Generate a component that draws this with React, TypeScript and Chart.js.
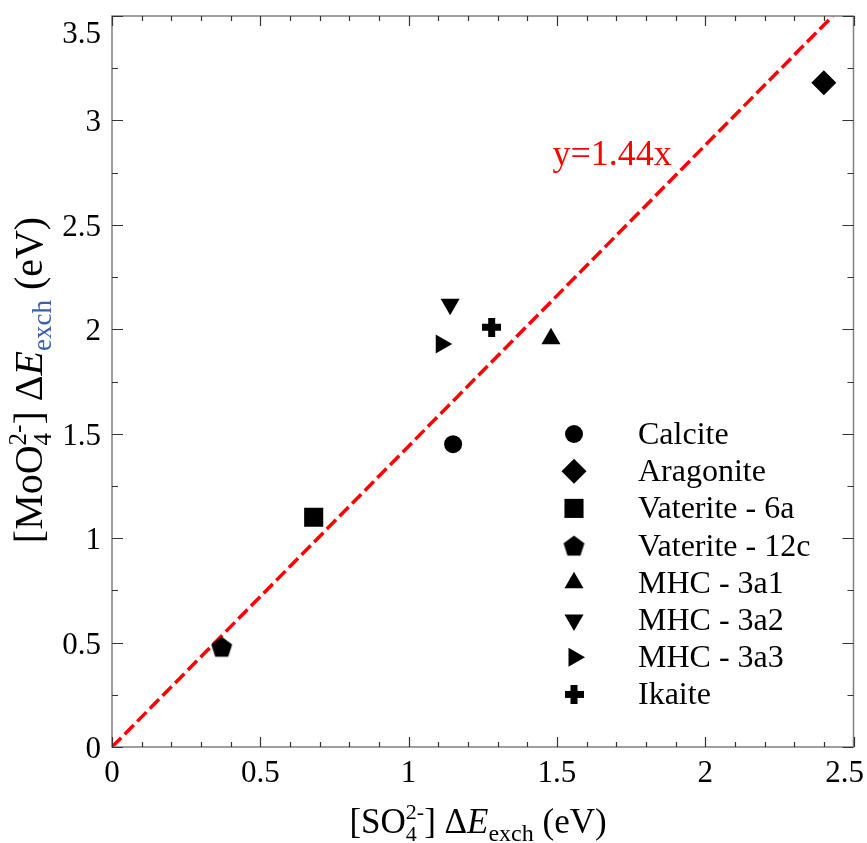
import React, { useEffect, useRef } from 'react';
import { Chart, registerables } from 'chart.js';
import { drawPoint } from 'chart.js/helpers';

Chart.register(...registerables);

// ---- data ----
const seriesNames = ['Calcite', 'Aragonite', 'Vaterite - 6a', 'Vaterite - 12c', 'MHC - 3a1', 'MHC - 3a2', 'MHC - 3a3', 'Ikaite'];
const seriesX = [1.15, 2.40, 0.68, 0.37, 1.48, 1.14, 1.11, 1.28];
const seriesY = [1.45, 3.18, 1.10, 0.48, 1.955, 2.12, 1.93, 2.01];
const fitLineX = [0, 2.43];
const fitLineY = [0, 3.5];
const fitLabel = 'y=1.44x';
const xTicks = [0, 0.5, 1, 1.5, 2, 2.5];
const xTickLabels = ['0', '0.5', '1', '1.5', '2', '2.5'];
const yTicks = [0, 0.5, 1, 1.5, 2, 2.5, 3, 3.5];
const yTickLabels = ['0', '0.5', '1', '1.5', '2', '2.5', '3', '3.5'];
const xMinorStep = 0.1;
const yMinorStep = 0.25;

const FONT = '"Liberation Serif", "Times New Roman", serif';

type Part = { text: string; size: number; dy?: number; italic?: boolean; color?: string; stackNext?: boolean };

function fontOf(p: Part) {
  return `${p.italic ? 'italic ' : ''}${p.size}px ${FONT}`;
}

function drawRich(ctx: CanvasRenderingContext2D, parts: Part[], cx: number, cy: number, rotate: boolean) {
  let w = 0;
  const placed: { p: Part; x: number }[] = [];
  for (let i = 0; i < parts.length; i++) {
    const p = parts[i];
    ctx.font = fontOf(p);
    const pw = ctx.measureText(p.text).width;
    if (p.stackNext && i + 1 < parts.length) {
      const q = parts[i + 1];
      ctx.font = fontOf(q);
      const qw = ctx.measureText(q.text).width;
      placed.push({ p, x: w });
      placed.push({ p: q, x: w });
      w += Math.max(pw, qw);
      i++;
    } else {
      placed.push({ p, x: w });
      w += pw;
    }
  }
  ctx.save();
  ctx.translate(cx, cy);
  if (rotate) ctx.rotate(-Math.PI / 2);
  ctx.textAlign = 'left';
  ctx.textBaseline = 'alphabetic';
  const start = -w / 2;
  for (const { p, x } of placed) {
    ctx.font = fontOf(p);
    ctx.fillStyle = p.color || '#000';
    ctx.fillText(p.text, start + x, p.dy || 0);
  }
  ctx.restore();
}

function makePentagon(size: number, R: number) {
  const c = document.createElement('canvas');
  c.width = size;
  c.height = size;
  const g = c.getContext('2d')!;
  g.fillStyle = '#000';
  const cos36 = Math.cos(Math.PI / 5);
  const cy = size / 2 + (R - R * cos36) / 2;
  g.beginPath();
  for (let i = 0; i < 5; i++) {
    const a = (-90 + 72 * i) * Math.PI / 180;
    const x = size / 2 + R * Math.cos(a);
    const y = cy + R * Math.sin(a);
    if (i === 0) g.moveTo(x, y); else g.lineTo(x, y);
  }
  g.closePath();
  g.fill();
  return c;
}

function makePlus(size: number, t: number) {
  const c = document.createElement('canvas');
  c.width = size;
  c.height = size;
  const g = c.getContext('2d')!;
  g.fillStyle = '#000';
  const o = (size - t) / 2;
  g.fillRect(o, 0, t, size);
  g.fillRect(0, o, size, t);
  return c;
}

export default function App() {
  const ref = useRef<HTMLCanvasElement | null>(null);

  useEffect(() => {
    const canvas = ref.current;
    if (!canvas) return;
    const pent = makePentagon(23, 11);
    const plus = makePlus(19, 7);
    const markerStyles: any[] = [
      { pointStyle: 'circle', radius: 9, rotation: 0 },
      { pointStyle: 'rectRot', radius: 12.5, rotation: 0 },
      { pointStyle: 'rect', radius: 13.5, rotation: 0 },
      { pointStyle: pent, radius: 10, rotation: 0 },
      { pointStyle: 'triangle', radius: 11, rotation: 0 },
      { pointStyle: 'triangle', radius: 11, rotation: 180 },
      { pointStyle: 'triangle', radius: 11, rotation: 90 },
      { pointStyle: plus, radius: 9, rotation: 0 },
    ];

    const scatterSets = seriesNames.map((name, i) => ({
      type: 'scatter' as const,
      label: name,
      data: [{ x: seriesX[i], y: seriesY[i] }],
      pointStyle: markerStyles[i].pointStyle,
      pointRadius: markerStyles[i].radius,
      pointRotation: markerStyles[i].rotation,
      pointBackgroundColor: '#000',
      pointBorderColor: '#000',
      pointBorderWidth: 0,
      showLine: false,
      order: 1,
    }));

    const lineSet = {
      type: 'line' as const,
      label: fitLabel,
      data: fitLineX.map((x, i) => ({ x, y: fitLineY[i] })),
      borderColor: '#ff0000',
      borderWidth: 3.5,
      borderDash: [13, 5],
      borderCapStyle: 'butt' as const,
      pointRadius: 0,
      fill: false,
      tension: 0,
      order: 2,
    };

    const framePlugin = {
      id: 'frame',
      afterDraw(chart: any) {
        const ctx: CanvasRenderingContext2D = chart.ctx;
        const { left, right, top, bottom } = chart.chartArea;
        const xs = chart.scales.x;
        const ys = chart.scales.y;
        ctx.save();
        // frame
        ctx.strokeStyle = '#808080';
        ctx.lineWidth = 1.5;
        ctx.strokeRect(left, top, right - left, bottom - top);
        // ticks
        ctx.strokeStyle = '#333';
        ctx.lineWidth = 1.2;
        ctx.beginPath();
        const eps = 1e-6;
        for (let v = xs.min; v <= xs.max + eps; v += xMinorStep) {
          const isMajor = xTicks.some((t) => Math.abs(t - v) < 1e-4);
          const len = isMajor ? 10 : 5;
          const px = Math.round(xs.getPixelForValue(v)) + 0.5;
          ctx.moveTo(px, bottom);
          ctx.lineTo(px, bottom - len);
          ctx.moveTo(px, top);
          ctx.lineTo(px, top + len);
        }
        for (let v = ys.min; v <= ys.max + eps; v += yMinorStep) {
          const isMajor = yTicks.some((t) => Math.abs(t - v) < 1e-4);
          const len = isMajor ? 11 : 6;
          const py = Math.round(ys.getPixelForValue(v)) + 0.5;
          ctx.moveTo(left, py);
          ctx.lineTo(left + len, py);
          ctx.moveTo(right, py);
          ctx.lineTo(right - len, py);
        }
        ctx.stroke();

        // tick labels
        ctx.fillStyle = '#000';
        ctx.font = `31px ${FONT}`;
        ctx.textBaseline = 'alphabetic';
        const W = chart.width;
        xTicks.forEach((v, i) => {
          const lbl = xTickLabels[i];
          const w = ctx.measureText(lbl).width;
          let cx = xs.getPixelForValue(v);
          cx = Math.min(cx, W - 3 - w / 2);
          ctx.textAlign = 'center';
          ctx.fillText(lbl, cx, bottom + 35);
        });
        yTicks.forEach((v, i) => {
          const lbl = yTickLabels[i];
          let cy = ys.getPixelForValue(v);
          cy = Math.max(cy, top + 16);
          ctx.textAlign = 'right';
          ctx.fillText(lbl, left - 11, cy + 11);
        });

        // axis titles
        drawRich(ctx, [
          { text: '[SO', size: 35 },
          { text: '2-', size: 22, dy: -14, stackNext: true },
          { text: '4', size: 22, dy: 8 },
          { text: '] Δ', size: 35 },
          { text: 'E', size: 35, italic: true },
          { text: 'exch', size: 24, dy: 8 },
          { text: ' (eV)', size: 35 },
        ], 478, bottom + 86, false);

        drawRich(ctx, [
          { text: '[MoO', size: 40 },
          { text: '2-', size: 25, dy: -16, stackNext: true },
          { text: '4', size: 25, dy: 9 },
          { text: '] Δ', size: 40 },
          { text: 'E', size: 40, italic: true },
          { text: 'exch', size: 27, dy: 9, color: '#3a62aa' },
          { text: ' (eV)', size: 40 },
        ], 42, 380, true);

        // fit label
        ctx.font = `36px ${FONT}`;
        ctx.fillStyle = '#ff0000';
        ctx.textAlign = 'left';
        ctx.fillText(fitLabel, xs.getPixelForValue(1.485), ys.getPixelForValue(2.785));

        // legend
        const lx = 574;
        const ly0 = 434;
        const dy = 37.2;
        seriesNames.forEach((name, i) => {
          const y = ly0 + i * dy;
          ctx.fillStyle = '#000';
          ctx.strokeStyle = '#000';
          drawPoint(ctx, { pointStyle: markerStyles[i].pointStyle, radius: markerStyles[i].radius, rotation: markerStyles[i].rotation, borderWidth: 0 } as any, lx, y);
          ctx.fillStyle = '#000';
          ctx.font = `32px ${FONT}`;
          ctx.textAlign = 'left';
          ctx.fillText(name, 638, y + 10);
        });
        ctx.restore();
      },
    };

    const chart = new Chart(canvas, {
      type: 'scatter',
      data: { datasets: [...scatterSets, lineSet] as any },
      options: {
        responsive: false,
        animation: false,
        events: [],
        layout: { padding: { left: 112, top: 16, right: 13, bottom: 96 } },
        plugins: { legend: { display: false }, tooltip: { enabled: false } },
        scales: {
          x: {
            type: 'linear',
            min: 0,
            max: 2.5,
            ticks: { display: false, stepSize: 0.5 },
            grid: { display: false },
            border: { display: false },
            afterFit: (s: any) => { s.height = 0; },
          },
          y: {
            type: 'linear',
            min: 0,
            max: 3.5,
            ticks: { display: false, stepSize: 0.5 },
            grid: { display: false },
            border: { display: false },
            afterFit: (s: any) => { s.width = 0; },
          },
        },
      },
      plugins: [framePlugin],
    });
    return () => chart.destroy();
  }, []);

  return (
    <div style={{ position: 'fixed', left: 0, top: 0, width: 867, height: 843, background: '#fff' }}>
      <canvas ref={ref} width={867} height={843} style={{ display: 'block' }} />
    </div>
  );
}
